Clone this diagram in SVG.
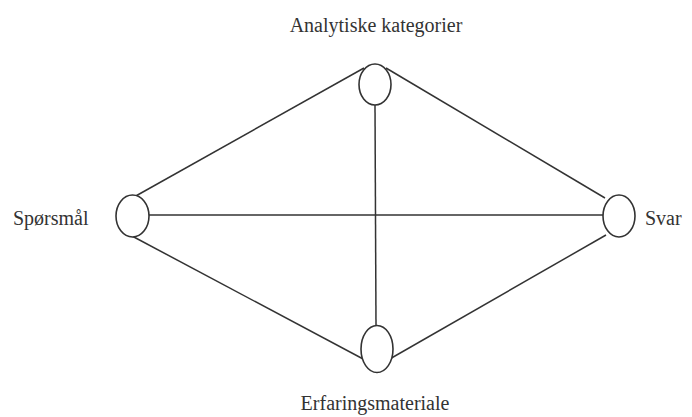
<svg xmlns="http://www.w3.org/2000/svg" width="692" height="417" viewBox="0 0 692 417">
<style>
.n{fill:#fff;stroke:#333;stroke-width:1.6}
.c{stroke:#333;stroke-width:1.5;fill:none}
.t{font-family:"Liberation Serif",serif;font-size:20px;fill:#333}
</style>
<rect width="692" height="417" fill="#fff"/>
<g id="connectors">
<line class="c" x1="134" y1="197" x2="364" y2="68"/>
<line class="c" x1="386" y1="68" x2="605" y2="198"/>
<line class="c" x1="149" y1="215" x2="603" y2="215"/>
<line class="c" x1="375" y1="105" x2="376" y2="326"/>
<line class="c" x1="132" y1="236" x2="365" y2="360"/>
<line class="c" x1="388" y1="360" x2="606" y2="235"/>
</g>
<g id="analytiske">
<ellipse class="n" cx="375" cy="84.5" rx="16" ry="20.5"/>
<text class="t" x="376" y="32" text-anchor="middle">Analytiske kategorier</text>
</g>
<g id="sporsmal">
<ellipse class="n" cx="132.5" cy="216" rx="16.5" ry="21"/>
<text class="t" x="13" y="225">Spørsmål</text>
</g>
<g id="svar">
<ellipse class="n" cx="619" cy="216" rx="16" ry="21"/>
<text class="t" x="645" y="225">Svar</text>
</g>
<g id="erfaring">
<ellipse class="n" cx="377" cy="349" rx="16" ry="23.5"/>
<text class="t" x="375" y="410" text-anchor="middle">Erfaringsmateriale</text>
</g>
</svg>
